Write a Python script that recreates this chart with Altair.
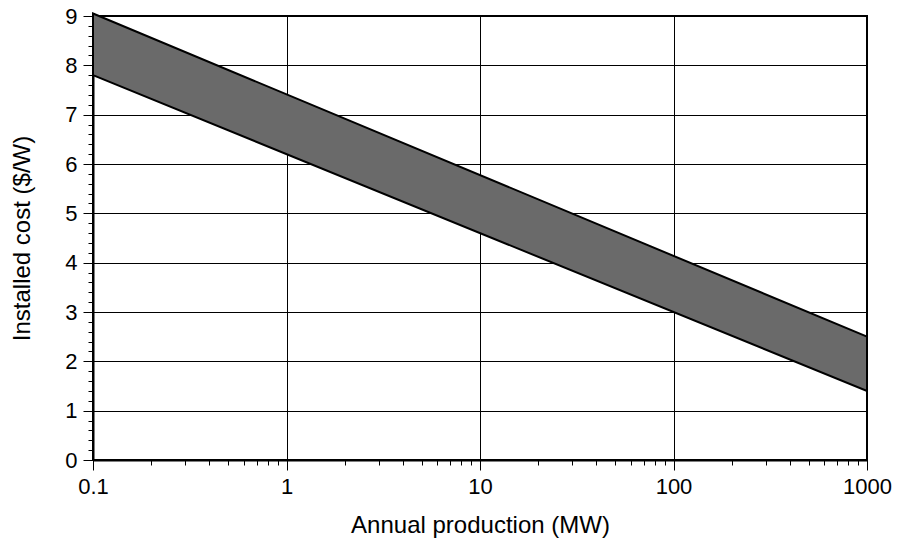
import altair as alt
import pandas as pd

# Band edges
production_mw = [0.1, 1000]
upper_cost = [9.05, 2.5]
lower_cost = [7.8, 1.4]

x_ticks = []
for d in [0.1, 1, 10, 100]:
    for m in range(1, 10):
        x_ticks.append(round(d * m, 6))
x_ticks.append(1000)
y_ticks = [round(i * 0.2, 6) for i in range(0, 46)]

df = pd.DataFrame({"x": production_mw, "hi": upper_cost, "lo": lower_cost})

FONT = "Liberation Sans"
is_decade = "abs(log(datum.value)/LN10 - round(log(datum.value)/LN10)) < 1e-6"
is_int = "abs(datum.value - round(datum.value)) < 1e-6"

x_axis = alt.Axis(
    values=x_ticks,
    title="Annual production (MW)",
    labelExpr=f"({is_decade}) ? format(datum.value, '~g') : ''",
    tickSize={"condition": {"test": is_decade, "value": 10}, "value": 5},
    gridOpacity={"condition": {"test": is_decade, "value": 1}, "value": 0},
    grid=True, gridColor="black", gridWidth=1,
    tickColor="black", tickWidth=1,
    domainColor="black", domainWidth=2,
    labelFont=FONT, labelFontSize=22, labelColor="black", labelPadding=6,
    labelFlush=False, labelOverlap=False,
    titleFont=FONT, titleFontSize=24, titleFontWeight="normal", titleColor="black",
    titlePadding=16,
)
y_axis = alt.Axis(
    values=y_ticks,
    title="Installed cost ($/W)",
    labelExpr=f"({is_int}) ? format(datum.value, 'd') : ''",
    tickSize={"condition": {"test": is_int, "value": 10}, "value": 5},
    gridOpacity={"condition": {"test": is_int, "value": 1}, "value": 0},
    grid=True, gridColor="black", gridWidth=1,
    tickColor="black", tickWidth=1,
    domainColor="black", domainWidth=2,
    labelFont=FONT, labelFontSize=22, labelColor="black", labelPadding=6,
    labelFlush=False, labelOverlap=False,
    titleFont=FONT, titleFontSize=24, titleFontWeight="normal", titleColor="black",
    titlePadding=30,
)

chart = alt.Chart(df).mark_area(
    fill="#6a6a6a", stroke="black", strokeWidth=2, interpolate="linear"
).encode(
    x=alt.X("x:Q", scale=alt.Scale(type="log", domain=[0.1, 1000], nice=False), axis=x_axis),
    y=alt.Y("hi:Q", scale=alt.Scale(domain=[0, 9], nice=False, zero=True), axis=y_axis),
    y2="lo:Q",
).properties(
    width=774, height=444,
    autosize=alt.AutoSizeParams(type="none"),
    padding={"left": 93, "top": 16, "right": 33, "bottom": 83},
    background="white",
).configure_view(stroke="black", strokeWidth=2)

chart.save("out.html", embed_options={"renderer": "svg", "actions": False})
